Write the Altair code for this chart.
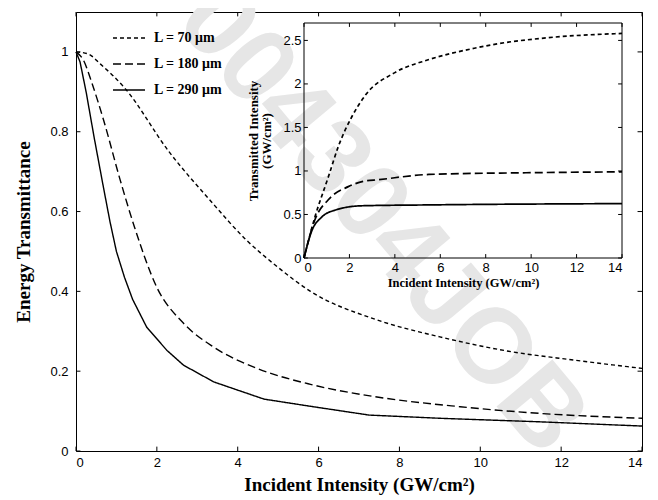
import altair as alt
import pandas as pd

series = ["L = 70 μm", "L = 180 μm", "L = 290 μm"]

# ---- main plot: energy transmittance vs incident intensity ----
x70 = [0, 0.3, 0.6, 1.2, 2.3, 3.3, 4.2, 5.0, 5.8, 7.4, 9.0, 10.7, 12.3, 14]
y70 = [1, 0.995, 0.97, 0.91, 0.75, 0.63, 0.53, 0.46, 0.40, 0.33, 0.286, 0.25, 0.228, 0.207]

x180 = [0, 0.18, 0.4, 0.68, 1.09, 1.45, 2.0, 2.66, 3.41, 4.48, 5.8, 7.4, 9.5, 11.5, 14]
y180 = [1, 0.98, 0.92, 0.83, 0.68, 0.56, 0.41, 0.32, 0.26, 0.207, 0.167, 0.136, 0.111, 0.094, 0.082]

x290 = [0, 0.1, 0.25, 0.45, 0.68, 0.84, 1.0, 1.2, 1.4, 1.75, 2.25, 2.66, 3.41, 4.65,
        5.8, 7.25, 9.0, 11.5, 14]
y290 = [1, 0.975, 0.90, 0.785, 0.66, 0.575, 0.50, 0.435, 0.38, 0.31, 0.252, 0.215,
        0.173, 0.13, 0.112, 0.09, 0.082, 0.073, 0.0625]

# ---- inset: transmitted intensity vs incident intensity ----
x70i = [0, 0.48, 1.07, 1.51, 2.1, 2.7, 4.0, 5.5, 7.5, 8.5, 10.7, 14]
y70i = [0, 0.47, 0.93, 1.28, 1.62, 1.87, 2.13, 2.28, 2.41, 2.46, 2.53, 2.58]

x180i = [0, 0.48, 1.07, 1.95, 2.6, 3.3, 5.5, 10, 14]
y180i = [0, 0.44, 0.67, 0.82, 0.88, 0.90, 0.96, 0.98, 0.99]

x290i = [0, 0.34, 0.78, 1.37, 2.54, 5.5, 14]
y290i = [0, 0.31, 0.47, 0.55, 0.60, 0.61, 0.625]

main_xticks = [0, 2, 4, 6, 8, 10, 12, 14]
main_yticks = [0, 0.2, 0.4, 0.6, 0.8, 1]
inset_xticks = [0, 2, 4, 6, 8, 10, 12, 14]
inset_yticks = [0, 0.5, 1, 1.5, 2, 2.5]

watermark = ["004304JOB"]


def frame(xs, ys, name):
    return pd.DataFrame({"x": xs, "y": ys, "series": name})


main_dashed_df = pd.concat([frame(x70, y70, series[0]), frame(x180, y180, series[1])])
main_solid_df = frame(x290, y290, series[2])
inset_df = pd.concat([frame(x70i, y70i, series[0]), frame(x180i, y180i, series[1]),
                      frame(x290i, y290i, series[2])])

W, H = 566, 439
SERIF = "Liberation Serif"
SANS = "Liberation Sans"

dash_scale = alt.Scale(domain=series, range=[[4, 3], [8, 4], [1, 0]])

mx_scale = alt.Scale(domain=[0, 14], nice=False, zero=False)
my_scale = alt.Scale(domain=[0, 1.1], nice=False)

main_axis_x = alt.Axis(values=main_xticks, title="Incident Intensity (GW/cm²)",
                       titleFont=SERIF, titleFontSize=19, titleFontWeight="bold",
                       titlePadding=6, labelFont=SANS, labelFontSize=13,
                       labelPadding=5, ticks=False, tickSize=0, domain=False,
                       grid=False, format="~g", zindex=1)
main_axis_y = alt.Axis(values=main_yticks, title="Energy Transmittance",
                       titleFont=SERIF, titleFontSize=19, titleFontWeight="bold",
                       titlePadding=16, labelFont=SANS, labelFontSize=13,
                       labelPadding=8, ticks=False, tickSize=0, domain=False,
                       grid=False, format="~g", zindex=1)

legend = alt.Legend(orient="none", legendX=36, legendY=9, title=None,
                    symbolType="stroke", symbolSize=1024,
                    symbolStrokeColor="black", symbolStrokeWidth=1.5,
                    labelFont=SERIF, labelFontSize=14, labelFontWeight="bold",
                    labelOffset=8, rowPadding=2, padding=0, zindex=1)

wm = alt.Chart(pd.DataFrame({"t": watermark})).mark_text(
    angle=50, fontSize=106, fontWeight="bold", font=SANS, color="#e6e6e6"
).encode(text="t:N", x=alt.value(306), y=alt.value(208))

main_dashed = alt.Chart(main_dashed_df).mark_line(
    color="black", strokeWidth=1.4, interpolate="monotone"
).encode(
    x=alt.X("x:Q", scale=mx_scale, axis=main_axis_x),
    y=alt.Y("y:Q", scale=my_scale, axis=main_axis_y),
    strokeDash=alt.StrokeDash("series:N", scale=dash_scale, legend=legend),
)
main_solid = alt.Chart(main_solid_df).mark_line(
    color="black", strokeWidth=1.4, interpolate="linear"
).encode(
    x=alt.X("x:Q", scale=mx_scale, axis=main_axis_x),
    y=alt.Y("y:Q", scale=my_scale, axis=main_axis_y),
    strokeDash=alt.StrokeDash("series:N", scale=dash_scale, legend=legend),
)

mxt = pd.DataFrame({"x": main_xticks})
myt = pd.DataFrame({"y": main_yticks})
tick_b = alt.Chart(mxt).mark_rule(color="black").encode(
    x=alt.X("x:Q", axis=main_axis_x), y=alt.YDatum(0), y2=alt.Y2Datum(0.011))
tick_t = alt.Chart(mxt).mark_rule(color="black").encode(
    x=alt.X("x:Q", axis=main_axis_x), y=alt.YDatum(1.1), y2=alt.Y2Datum(1.089))
tick_l = alt.Chart(myt).mark_rule(color="black").encode(
    y=alt.Y("y:Q", axis=main_axis_y), x=alt.XDatum(0), x2=alt.X2Datum(0.11))
tick_r = alt.Chart(myt).mark_rule(color="black").encode(
    y=alt.Y("y:Q", axis=main_axis_y), x=alt.XDatum(14), x2=alt.X2Datum(13.89))

main_layer = alt.layer(wm, main_dashed, main_solid, tick_b, tick_t, tick_l, tick_r)

# inset
ix_scale = alt.Scale(domain=[0, 14], range=[228, 546], nice=False, zero=False)
iy_scale = alt.Scale(domain=[0, 2.7], range=[246, 11], nice=False)

inset_axis_x = alt.Axis(orient="bottom", offset=-193, values=inset_xticks,
                        title="Incident Intensity (GW/cm²)", titleFont=SERIF,
                        titleFontSize=12.5, titleFontWeight="bold", titlePadding=2,
                        labelFont=SANS, labelFontSize=13, labelPadding=3,
                        ticks=False, tickSize=0, domain=False, grid=False,
                        format="~g", zindex=1)
inset_axis_y = alt.Axis(orient="left", offset=-228, values=inset_yticks,
                        title=["Transmitted Intensity", "(GW/cm²)"], titleFont=SERIF,
                        titleFontSize=13, titleFontWeight="bold", titlePadding=9,
                        titleLineHeight=13, labelFont=SANS, labelFontSize=13,
                        labelPadding=3, ticks=False, tickSize=0, domain=False,
                        grid=False, format="~g", zindex=1)

inset_lines = alt.Chart(inset_df).mark_line(
    color="black", strokeWidth=1.7, interpolate="monotone"
).encode(
    x=alt.X("x:Q", scale=ix_scale, axis=inset_axis_x),
    y=alt.Y("y:Q", scale=iy_scale, axis=inset_axis_y),
    strokeDash=alt.StrokeDash("series:N", scale=dash_scale, legend=None),
)
inset_box = alt.Chart(pd.DataFrame({"a": [0]})).mark_rect(
    filled=False, stroke="black", strokeWidth=1
).encode(x=alt.XDatum(0), x2=alt.X2Datum(14),
         y=alt.YDatum(0), y2=alt.Y2Datum(2.7))

ixt = pd.DataFrame({"x": inset_xticks})
iyt = pd.DataFrame({"y": inset_yticks})
itick_b = alt.Chart(ixt).mark_rule(color="black").encode(
    x=alt.X("x:Q", axis=inset_axis_x), y=alt.YDatum(0), y2=alt.Y2Datum(0.045))
itick_t = alt.Chart(ixt).mark_rule(color="black").encode(
    x=alt.X("x:Q", axis=inset_axis_x), y=alt.YDatum(2.7), y2=alt.Y2Datum(2.655))
itick_l = alt.Chart(iyt).mark_rule(color="black").encode(
    y=alt.Y("y:Q", axis=inset_axis_y), x=alt.XDatum(0), x2=alt.X2Datum(0.17))
itick_r = alt.Chart(iyt).mark_rule(color="black").encode(
    y=alt.Y("y:Q", axis=inset_axis_y), x=alt.XDatum(14), x2=alt.X2Datum(13.83))

inset_layer = alt.layer(inset_box, inset_lines, itick_b, itick_t, itick_l, itick_r)

chart = alt.layer(main_layer, inset_layer).resolve_scale(
    x="independent", y="independent"
).properties(
    width=W, height=H,
    autosize=alt.AutoSizeParams(type="none"),
    padding={"left": 68, "top": 4, "right": 8, "bottom": 45},
    background="white",
).configure_view(stroke="black", strokeWidth=1)

chart.save("out.html", embed_options={"renderer": "svg", "actions": False})
